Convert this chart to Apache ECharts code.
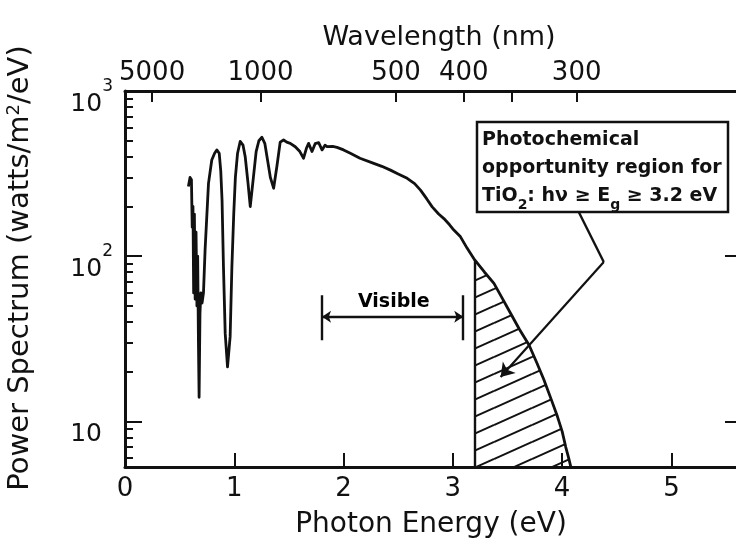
<!DOCTYPE html>
<html><head><meta charset="utf-8">
<script src="https://cdn.jsdelivr.net/npm/echarts@6/dist/echarts.min.js"></script>
<style>html,body{margin:0;padding:0;background:#fff}#c{width:736px;height:554px}</style>
</head><body><div id="c"></div>
<script>
// ---------------- data ----------------
const photonEnergy = [0.580,0.595,0.608,0.615,0.622,0.628,0.635,0.642,0.650,0.658,0.665,0.672,0.678,0.686,0.694,0.705,0.718,0.733,0.764,0.794,0.820,0.840,0.862,0.876,0.888,0.901,0.917,0.938,0.962,0.978,0.995,1.010,1.030,1.054,1.080,1.100,1.125,1.146,1.170,1.200,1.225,1.253,1.280,1.305,1.330,1.360,1.390,1.420,1.451,1.480,1.512,1.558,1.600,1.634,1.660,1.680,1.711,1.740,1.772,1.803,1.830,1.849,1.900,1.940,2.000,2.062,2.150,2.276,2.350,2.429,2.500,2.582,2.650,2.704,2.760,2.811,2.870,2.918,2.970,3.009,3.070,3.130,3.200,3.290,3.376,3.450,3.529,3.610,3.697,3.770,3.834,3.900,3.957,4.000,4.033,4.060,4.079];
const powerSpectrum = [264,300,290,150,200,60,180,55,140,50,100,30,14,45,60,52,60,110,276,382,420,440,420,330,219,86,34,21.4,32.6,86,180,300,420,495,470,400,280,200,280,430,500,525,480,380,300,258,350,490,505,490,482,460,430,392,450,482,430,480,487,440,470,460,462,456,440,420,392,365,350,332,315,296,275,251,223,199,180,169,155,144,131,112,95,80,68.5,56,45,36,29,22.5,17.8,13.6,10.7,8.7,7.0,6.0,5.32];

const energyTicks = [1, 2, 3, 4, 5];
const energyLabels = [0, 1, 2, 3, 4, 5];
const powerMajorTicks = [10, 100];
const powerLabels = [10, 100, 1000];
const powerMinorTicks = [6,7,8,9,20,30,40,50,60,70,80,90,200,300,400,500,600,700,800,900];
const wavelengthTicks = [5000, 1000, 500, 400, 350, 300];
const wavelengthLabels = [5000, 1000, 500, 400, 300];

const bandGap = 3.2;                 // eV, start of hatched region
const visibleRange = [1.803, 3.095]; // eV
const visibleLevel = 43;             // arrow level
const visibleBar = [31, 58];         // bar extent
const visibleTextAt = [2.46, 53];
const pointerPath = [[4.152, 185], [4.381, 92.2], [3.437, 18.6]];

const xMin = 0, xMax = 5.6, yMin = 5.3, yMax = 1000;
const HC = 1239.84;
const toEnergy = l => HC / l;

// ---------------- derived ----------------
const curve = photonEnergy.map((e, i) => [e, powerSpectrum[i]]);
const hatchData = curve.filter(p => p[0] >= bandGap);
const gapValue = powerSpectrum[photonEnergy.indexOf(bandGap)];

function hatchCanvas() {
  const w = 38, h = 17;
  const c = document.createElement('canvas');
  c.width = w; c.height = h;
  const g = c.getContext('2d');
  g.strokeStyle = '#111'; g.lineWidth = 2;
  for (const dy of [-h, 0, h]) {
    g.beginPath(); g.moveTo(0, h + dy); g.lineTo(w, dy); g.stroke();
  }
  return c;
}

const FONT = '"DejaVu Sans", sans-serif';
const INK = '#111';

const chart = echarts.init(document.getElementById('c'), null, {renderer: 'canvas'});
chart.setOption({
  animation: false,
  backgroundColor: '#fff',
  grid: {left: 125, top: 91, width: 612, height: 376, containLabel: false, outerBoundsMode: 'none'},
  xAxis: [{
    type: 'value', min: xMin, max: xMax, position: 'bottom',
    name: 'Photon Energy (eV)', nameLocation: 'middle', nameGap: 44,
    nameTextStyle: {fontFamily: FONT, fontSize: 28, color: INK},
    axisLine: {onZero: false, lineStyle: {color: INK, width: 3}},
    axisTick: {inside: true, length: 14, customValues: energyTicks, lineStyle: {color: INK, width: 2}},
    axisLabel: {customValues: energyLabels, margin: 9, fontFamily: FONT, fontSize: 26, color: INK},
    splitLine: {show: false}
  }, {
    type: 'value', min: xMin, max: xMax, position: 'top',
    name: 'Wavelength (nm)', nameLocation: 'middle', nameGap: 40,
    nameTextStyle: {fontFamily: FONT, fontSize: 27, color: INK, padding: [0, 0, 0, 16]},
    axisLine: {onZero: false, lineStyle: {color: INK, width: 3}},
    axisTick: {inside: true, length: 11, customValues: wavelengthTicks.map(toEnergy), lineStyle: {color: INK, width: 2}},
    axisLabel: {customValues: wavelengthLabels.map(toEnergy), margin: 5, fontFamily: FONT, fontSize: 26, color: INK,
      formatter: v => String(Math.round(HC / v))},
    splitLine: {show: false}
  }],
  yAxis: [{
    type: 'log', logBase: 10, min: yMin, max: yMax, position: 'left',
    name: 'Power Spectrum (watts/m{sup|2}/eV)', nameLocation: 'middle', nameGap: 90,
    nameTextStyle: {fontFamily: FONT, fontSize: 29, color: INK, padding: [0, 0, 0, 22],
      rich: {sup: {fontFamily: FONT, fontSize: 18, color: INK, verticalAlign: 'top', lineHeight: 30}}},
    axisLine: {onZero: false, lineStyle: {color: INK, width: 3}},
    axisTick: {inside: true, length: 17, customValues: powerMajorTicks, lineStyle: {color: INK, width: 2}},
    axisLabel: {customValues: powerLabels, margin: 12, align: 'right',
      formatter: v => {
        const e = Math.round(Math.log10(v));
        return e === 1 ? '{b|10}{pad| }' : '{b|10}{sup|' + e + '}';
      },
      rich: {
        b: {fontFamily: FONT, fontSize: 25, color: INK, lineHeight: 26, padding: [14, 0, 0, 0], verticalAlign: 'top'},
        sup: {fontFamily: FONT, fontSize: 17, color: INK, lineHeight: 18, verticalAlign: 'top'},
        pad: {fontFamily: FONT, fontSize: 17, width: 11, lineHeight: 18, verticalAlign: 'top'}
      }},
    splitLine: {show: false}
  }, {
    type: 'log', logBase: 10, min: yMin, max: yMax, position: 'left',
    axisLine: {show: false, onZero: false},
    axisTick: {inside: true, length: 8, customValues: powerMinorTicks, lineStyle: {color: INK, width: 2}},
    axisLabel: {show: false}, splitLine: {show: false}
  }, {
    type: 'log', logBase: 10, min: yMin, max: yMax, position: 'right',
    axisLine: {onZero: false, lineStyle: {color: INK, width: 3}},
    axisTick: {inside: true, length: 12, customValues: powerMajorTicks, lineStyle: {color: INK, width: 2}},
    axisLabel: {show: false}, splitLine: {show: false}
  }],
  series: [{
    type: 'line', name: 'hatch', data: hatchData, showSymbol: false, symbol: 'none',
    lineStyle: {width: 0, opacity: 0},
    areaStyle: {color: {image: hatchCanvas(), repeat: 'repeat'}, opacity: 1},
    z: 1
  }, {
    type: 'line', name: 'spectrum', data: curve, showSymbol: false, symbol: 'none',
    lineStyle: {color: INK, width: 2.8, join: 'round'}, z: 3
  }, {
    type: 'lines', coordinateSystem: 'cartesian2d', z: 3,
    lineStyle: {color: INK, width: 2.4, opacity: 1},
    symbol: ['none', 'none'],
    data: [
      {coords: [[bandGap, yMin], [bandGap, gapValue]]},
      {coords: [[visibleRange[0], visibleBar[0]], [visibleRange[0], visibleBar[1]]]},
      {coords: [[visibleRange[1], visibleBar[0]], [visibleRange[1], visibleBar[1]]]},
      {coords: [pointerPath[0], pointerPath[1]]}
    ]
  }, {
    type: 'lines', coordinateSystem: 'cartesian2d', z: 3,
    lineStyle: {color: INK, width: 2.4, opacity: 1},
    symbol: ['arrow', 'arrow'], symbolSize: 9,
    data: [{coords: [[visibleRange[0], visibleLevel], [visibleRange[1], visibleLevel]]}]
  }, {
    type: 'lines', coordinateSystem: 'cartesian2d', z: 4,
    lineStyle: {color: INK, width: 2.2, opacity: 1},
    symbol: ['none', 'arrow'], symbolSize: 13,
    data: [{coords: [pointerPath[1], pointerPath[2]]}]
  }, {
    type: 'scatter', symbolSize: 0, z: 4,
    itemStyle: {opacity: 1},
    data: [visibleTextAt],
    label: {show: true, position: 'inside', formatter: 'Visible', opacity: 1,
      fontFamily: FONT, fontSize: 19, fontWeight: 'bold', color: '#000'}
  }],
  graphic: [{
    type: 'group', z: 10,
    children: [
      {type: 'rect', shape: {x: 477, y: 122, width: 251, height: 90},
       style: {fill: '#fff', stroke: INK, lineWidth: 2.5}},
      {type: 'text', x: 482, y: 140, style: {text: 'Photochemical', font: 'bold 19px ' + FONT, fill: INK, verticalAlign: 'middle'}},
      {type: 'text', x: 482, y: 168, style: {text: 'opportunity region for', font: 'bold 19px ' + FONT, fill: INK, verticalAlign: 'middle'}},
      {type: 'text', x: 482, y: 196, style: {
        text: 'TiO{sub|2}: hν ≥ E{sub|g} ≥ 3.2 eV', font: 'bold 19px ' + FONT, fill: INK, verticalAlign: 'middle',
        rich: {sub: {font: 'bold 14px ' + FONT, fill: INK, lineHeight: 14, padding: [12, 0, 0, 0], verticalAlign: 'top'}}
      }}
    ]
  }]
});
</script>
</body></html>
